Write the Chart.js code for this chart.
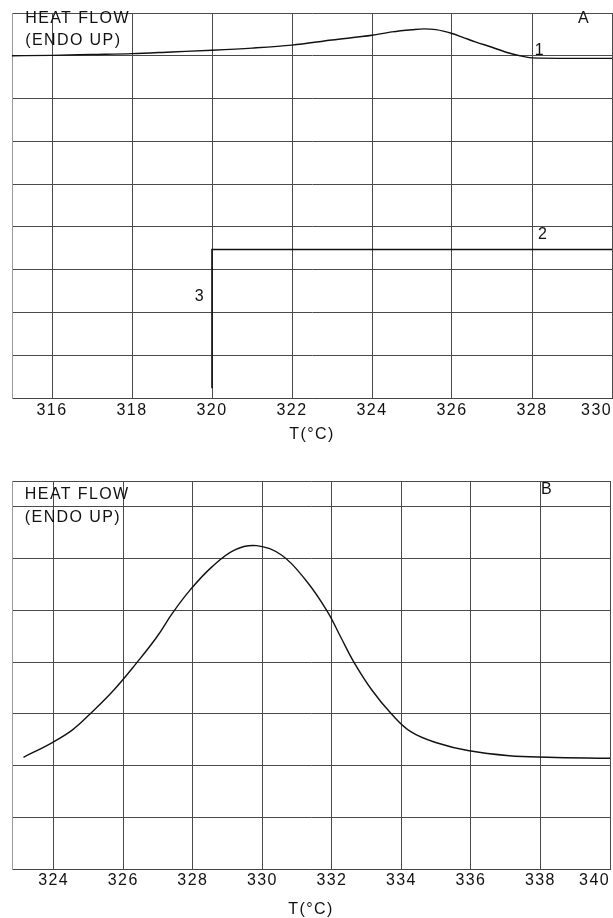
<!DOCTYPE html>
<html><head><meta charset="utf-8">
<script src="https://cdn.jsdelivr.net/npm/chart.js@4.4.1/dist/chart.umd.min.js"></script>
<style>
html,body{margin:0;padding:0;background:#fff;}
#wrapA{position:absolute;left:0;top:0;width:613px;height:450px;}
#wrapB{position:absolute;left:0;top:460px;width:613px;height:458px;}
</style></head><body>
<div id="wrapA"><canvas id="chartA" width="613" height="450"></canvas></div>
<div id="wrapB"><canvas id="chartB" width="613" height="458"></canvas></div>
<script>
// ---- Panel A data ----
const tempA1 = [315,316,317,318,319,320,321,322,323,324,324.5,325,325.3,325.6,326,326.3,326.6,327,327.4,327.8,328,329,330];
const flowA1 = [8.0,8.01,8.03,8.05,8.09,8.13,8.18,8.25,8.37,8.48,8.56,8.61,8.63,8.61,8.52,8.42,8.32,8.2,8.07,7.98,7.95,7.94,7.94];
const tempA2 = [320,320,330];
const flowA2 = [0.23,3.47,3.47];
const ticksAx = [316,318,320,322,324,326,328,330];
const ticksAy = [0,1,2,3,4,5,6,7,8,9];

// ---- Panel B data ----
const tempB = [323.13,323.92,324.54,325.05,325.73,326.38,326.97,327.42,327.92,328.55,329.21,329.84,330.55,331.24,331.86,332.25,332.65,333.15,333.71,334.28,335.06,335.91,337.1,338.2,339.9,340];
const flowB = [2.16,2.43,2.69,3.0,3.46,3.98,4.49,4.95,5.39,5.84,6.17,6.25,6.07,5.59,4.99,4.49,3.98,3.46,3.0,2.65,2.43,2.29,2.19,2.16,2.14,2.14];
const ticksBx = [324,326,328,330,332,334,336,338,340];
const ticksBy = [0,1,2,3,4,5,6,7,7.5];

const axisTitle = 'T(°C)';
const notesA = [
  {text:'HEAT FLOW', x:315.33, y:8.88, align:'left'},
  {text:'(ENDO UP)', x:315.33, y:8.36, align:'left'},
  {text:'A', x:329.3, y:8.88, align:'center'},
  {text:'1', x:328.2, y:8.13, align:'center'},
  {text:'2', x:328.28, y:3.81, align:'center'},
  {text:'3', x:319.7, y:2.36, align:'center'}
];
const notesB = [
  {text:'HEAT FLOW', x:323.17, y:7.23, align:'left'},
  {text:'(ENDO UP)', x:323.17, y:6.8, align:'left'},
  {text:'B', x:338.19, y:7.33, align:'center'}
];

const FONT = "'Liberation Sans', Arial, sans-serif";
const zip = (xs, ys) => xs.map((x, i) => ({x, y: ys[i]}));

const spacingPlugin = {
  id: 'spacing',
  beforeDraw(chart) { chart.ctx.letterSpacing = '1.4px'; }
};
const notesPlugin = {
  id: 'notes',
  afterDatasetsDraw(chart, args, opts) {
    const ctx = chart.ctx;
    const xs = chart.scales.x, ys = chart.scales.y;
    ctx.save();
    ctx.letterSpacing = '1.4px';
    ctx.fillStyle = '#111';
    ctx.font = '16px ' + FONT;
    ctx.textBaseline = 'middle';
    (opts.items || []).forEach(n => {
      ctx.textAlign = n.align;
      ctx.fillText(n.text, xs.getPixelForValue(n.x), ys.getPixelForValue(n.y));
    });
    ctx.restore();
  }
};

function makeChart(id, datasets, xmin, xmax, xticks, ymax, yticks, pad, xAxisH, tickPad, titlePad, notes) {
  const lastX = xticks[xticks.length - 1];
  return new Chart(document.getElementById(id), {
    type: 'scatter',
    data: { datasets },
    options: {
      responsive: false,
      animation: false,
      devicePixelRatio: 1,
      layout: { padding: pad },
      plugins: { legend: { display: false }, tooltip: { enabled: false }, notes: { items: notes } },
      scales: {
        x: {
          type: 'linear', min: xmin, max: xmax,
          afterBuildTicks: s => { s.ticks = xticks.map(v => ({value: v})); },
          afterFit: s => { s.height = xAxisH; s.paddingLeft = 0; s.paddingRight = 0; },
          grid: { color: '#4a4a4a', lineWidth: 1, drawTicks: false },
          border: { color: '#444', width: 1 },
          ticks: {
            autoSkip: false, maxRotation: 0, padding: tickPad, color: '#111',
            font: { family: FONT, size: 16 },
            callback: v => (v === lastX ? String(v) + '\u2007\u2007\u2007' : String(v))
          },
          title: { display: true, text: axisTitle, color: '#111',
                   font: { family: FONT, size: 16, lineHeight: 1 }, padding: titlePad }
        },
        y: {
          type: 'linear', min: 0, max: ymax,
          afterBuildTicks: s => { s.ticks = yticks.map(v => ({value: v})); },
          afterFit: s => { s.width = 0; },
          grid: { color: '#4a4a4a', lineWidth: 1, drawTicks: false },
          border: { color: '#999', width: 1 },
          ticks: { display: false }
        }
      }
    },
    plugins: [spacingPlugin, notesPlugin]
  });
}

makeChart('chartA', [
  { data: zip(tempA1, flowA1), showLine: true, borderColor: '#111', borderWidth: 1.4, pointRadius: 0, cubicInterpolationMode: 'monotone' },
  { data: zip(tempA2, flowA2), showLine: true, borderColor: '#111', borderWidth: 1.6, pointRadius: 0, tension: 0 }
], 315, 330, ticksAx, 9, ticksAy, {left: 12, right: 1, top: 13, bottom: 0}, 52, 3, {top: 0, bottom: 7}, notesA);

makeChart('chartB', [
  { data: zip(tempB, flowB), showLine: true, borderColor: '#111', borderWidth: 1.4, pointRadius: 0, tension: 0.4 }
], 322.8, 340, ticksBx, 7.5, ticksBy, {left: 12, right: 3, top: 21, bottom: 0}, 49, 2, {top: 0, bottom: 0}, notesB);
</script>
</body></html>
